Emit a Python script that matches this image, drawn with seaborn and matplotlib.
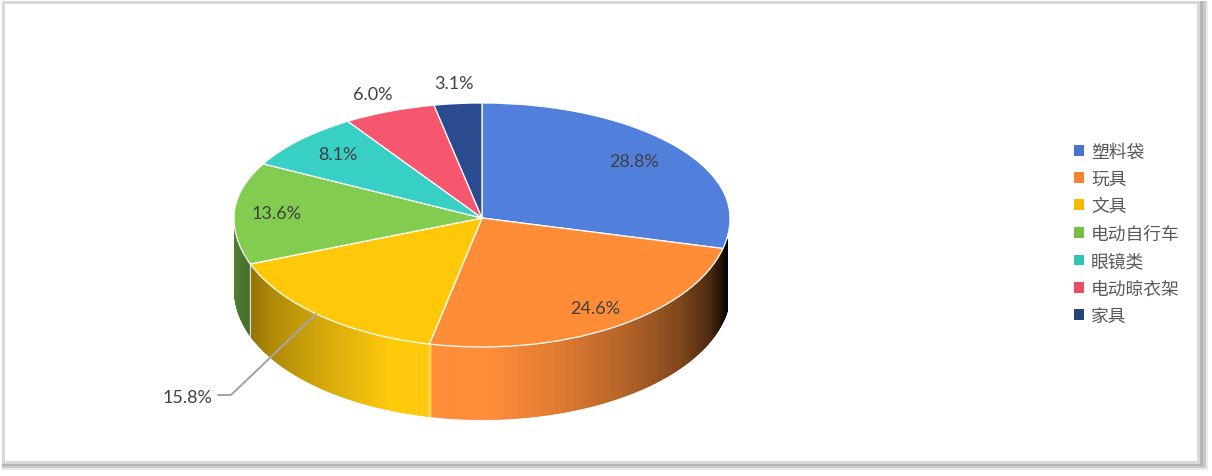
import numpy as np
import matplotlib
matplotlib.use("Agg")
import matplotlib.pyplot as plt
from matplotlib.patches import Patch, Rectangle
from matplotlib.colors import to_rgb
import seaborn as sns

categories = ["塑料袋", "玩具", "文具", "电动自行车", "眼镜类", "电动晾衣架", "家具"]
shares = [28.8, 24.6, 15.8, 13.6, 8.1, 6.0, 3.1]
top_colors = ["#5180dc", "#ff8c37", "#ffc90a", "#82cd4f", "#38d0c4", "#f7566f", "#2b4b90"]
legend_colors = ["#4975d0", "#f58331", "#f5bb00", "#74bf44", "#2ec4b6", "#e94f64", "#264478"]

sns.set_theme(style="white")
plt.rcParams["font.family"] = ["Lato", "Noto Sans CJK SC", "DejaVu Sans"]

W, H = 1212, 477
CX, CY, RX, DEPTH = 482, 219, 248, 72
RY_BACK, RY_FRONT = 115, 129  # the tilted disc is flatter behind the centre


def squash(y):
    y = np.asarray(y, dtype=float)
    return np.where(y >= 0, y * RY_BACK, y * RY_FRONT)


def unsquash(v):
    v = np.asarray(v, dtype=float)
    return np.where(v >= 0, v / RY_BACK, v / RY_FRONT)


def to_data(x, y):
    # picture pixels -> pie units
    return (x - CX) / RX, float(unsquash(CY - y))


fig = plt.figure(figsize=(W / 100, H / 100), dpi=100)
ax = fig.add_axes([0, 0, 1, 1])

# frame with the soft shadow on the right and at the bottom
for x0, y0, x1, y1, col in [
    (2, 2, 1208, 471, "#ebebeb"),
    (2, 2, 1206, 469, "#c8c8c8"),
    (2, 2, 1203, 467, "#b4b4b4"),
    (2, 2, 1200, 465, "#d8d8d8"),
    (5, 5, 1197, 462, "white"),
]:
    fig.add_artist(Rectangle((x0 / W, 1 - y1 / H), (x1 - x0) / W, (y1 - y0) / H,
                             transform=fig.transFigure, fc=col, ec="none", zorder=-5))
ax.patch.set_alpha(0)

wedges, _ = ax.pie(shares, colors=sns.color_palette(top_colors), startangle=90,
                   counterclock=False, radius=1, center=(0, 0),
                   wedgeprops={"edgecolor": "white", "linewidth": 0.9, "zorder": 5})
ax.set_aspect("auto")
ax.set_yscale("function", functions=(squash, unsquash))
ax.set_xlim(-CX / RX, (W - CX) / RX)
ax.set_ylim((CY - H) / RY_FRONT, CY / RY_BACK)
ax.axis("off")

# side wall: brightness against pixel x for each visible slice
wall_shades = {
    "塑料袋": ([720, 727], [0.12, 0.05]),
    "玩具": ([490, 560, 620, 680, 710, 726], [1.0, 0.87, 0.72, 0.5, 0.3, 0.05]),
    "文具": ([247, 270, 330, 390, 427], [0.56, 0.68, 0.85, 1.0, 1.0]),
    "电动自行车": ([234, 247], [0.62, 0.55]),
}
fractions = np.array(shares) / sum(shares)
ends = np.cumsum(fractions)
depth = DEPTH / RY_FRONT
for name, color, start, end in zip(categories, top_colors, ends - fractions, ends):
    if name not in wall_shades:
        continue
    t = np.radians(np.arange(90 - 360 * end, 90 - 360 * start + 0.4, 0.4))
    # the wall narrows on the right, nothing shows past x = 727
    t = t[(np.sin(t) <= 0) & (CX + RX * np.cos(t) <= 727)]
    xs = np.cos(t)
    ys = np.sin(t)
    stops_x, stops_v = wall_shades[name]
    for i in range(len(t) - 1):
        level = np.interp(CX + RX * (xs[i] + xs[i + 1]) / 2, stops_x, stops_v)
        c = np.array(to_rgb(color)) * level
        ax.fill_between(xs[i:i + 2], ys[i:i + 2], ys[i:i + 2] - depth,
                        color=c, lw=0.6, zorder=2)
    # thin light seam between wall pieces
    if name in ("玩具", "文具"):
        x_seam = np.cos(t[0])
        y_seam = np.sin(t[0])
        ax.plot([x_seam, x_seam], [y_seam, y_seam - depth], color="#f3d9b8", lw=0.9, zorder=3)

label_spots = [(634, 162), (595, 309), (187, 398), (277, 214), (338, 155), (373, 95), (454, 84)]
for share, (px, py) in zip(shares, label_spots):
    ax.text(*to_data(px, py), f"{share:.1f}%", ha="center", va="center",
            fontsize=13, color="#404040", zorder=8)

leader = np.array([to_data(316, 315), to_data(231, 396), to_data(218, 396)])
ax.plot(leader[:, 0], leader[:, 1], color="#a6a6a6", lw=1.5, zorder=7)

handles = [Patch(fc=c, ec="none") for c in legend_colors]
ax.legend(handles, categories, loc="center left", bbox_to_anchor=(1074 / W, 1 - 234.5 / H),
          frameon=False, fontsize=12.8, labelcolor="#595959", handlelength=0.56,
          handleheight=0.56, handletextpad=0.39, labelspacing=0.623, borderpad=0, borderaxespad=0)

fig.savefig("out.png", dpi=100)
